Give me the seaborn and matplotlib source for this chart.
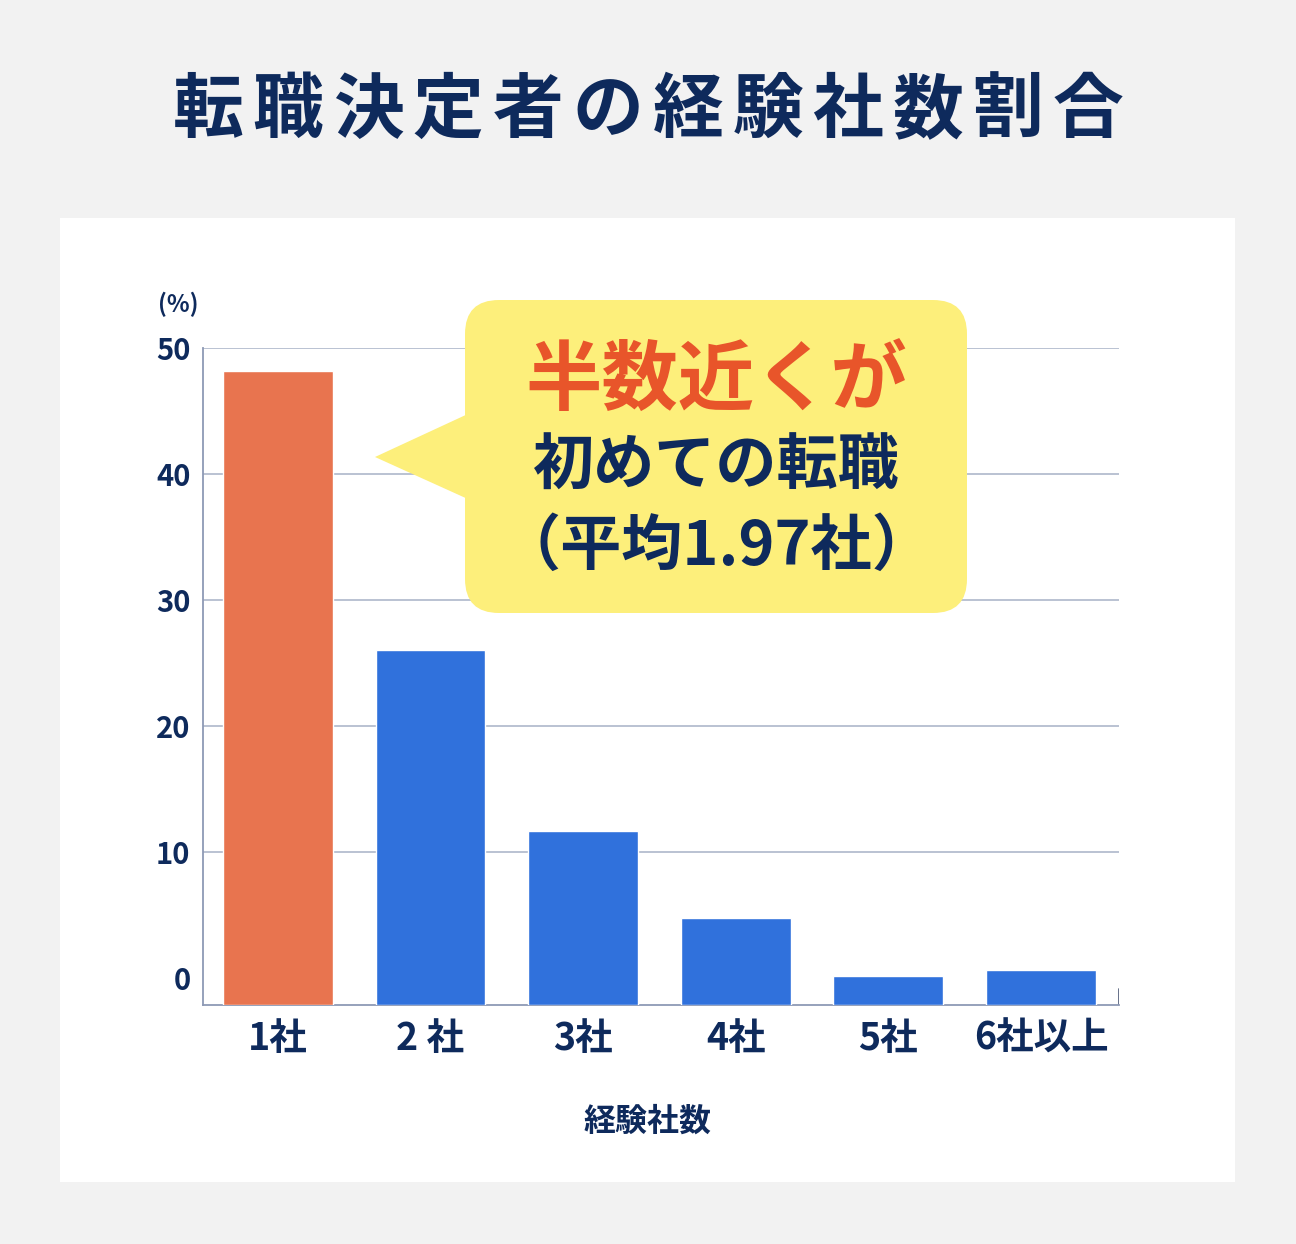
import numpy as np
import pandas as pd
import matplotlib
matplotlib.use("Agg")
import matplotlib.pyplot as plt
import seaborn as sns
from matplotlib.patches import FancyBboxPatch, Polygon, Rectangle

# data
categories = ["1社", "2 社", "3社", "4社", "5社", "6社以上"]
shares = [48.2, 26.0, 11.7, 4.8, 0.2, 0.6]
bar_colors = ["#e8744f", "#3071dc", "#3071dc", "#3071dc", "#3071dc", "#3071dc"]
yticks = [0, 10, 20, 30, 40, 50]

title = "転職決定者の経験社数割合"
note_head = "半数近くが"
note_body = ["初めての転職", "（平均1.97社）"]

navy = "#0e2a5c"

sns.set_style("white")
plt.rcParams["font.family"] = ["Noto Sans CJK JP", "DejaVu Sans"]
plt.rcParams["font.weight"] = "bold"

W, H = 1296, 1244
fig = plt.figure(figsize=(W / 100, H / 100), dpi=100)
fig.patch.set_facecolor("#f2f2f2")

# white panel
fig.patches.append(Rectangle((60 / W, 1 - 1182 / H), (1235 - 60) / W, (1182 - 218) / H,
                             transform=fig.transFigure, facecolor="white",
                             edgecolor="none", zorder=-5))

ax = fig.add_axes([203 / W, 1 - 1005 / H, 916 / W, (1005 - 348) / H])
ax.set_facecolor("none")

df = pd.DataFrame({"cat": categories, "share": shares})
sns.barplot(data=df, x="cat", y="share", hue="cat", palette=bar_colors,
            legend=False, width=0.72, saturation=1, ax=ax, zorder=3)

y0 = -2.14
# bars start from the floor of the axis, as in the original
for p in ax.patches:
    top = p.get_y() + p.get_height()
    p.set_y(y0)
    p.set_height(top - y0)

ax.set_ylim(y0, 50)
ax.set_xlim(-0.491, 5.511)
ax.set_yticks(yticks)
ax.yaxis.grid(True, color="#aeb8cb", lw=1.2, zorder=0)
ax.get_ygridlines()[0].set_visible(False)
ax.set_axisbelow(True)

for s in ["top", "right"]:
    ax.spines[s].set_visible(False)
for s in ["left", "bottom"]:
    ax.spines[s].set_color("#8e9ab5")
    ax.spines[s].set_linewidth(1.3)
ax.axvline(5.511, ymax=0.025, color="#5a6680", lw=1.3)

ax.tick_params(axis="y", length=0, pad=9, labelsize=21, labelcolor=navy)
ax.tick_params(axis="x", length=0, pad=10, labelsize=27, labelcolor=navy)
for t in ax.get_xticklabels() + ax.get_yticklabels():
    t.set_fontweight("bold")
ax.set_xlabel("")
ax.set_ylabel("")

fig.text(178 / W, 1 - 304 / H, "(%)", ha="center", va="center",
         fontsize=17, color=navy, fontweight="bold")
fig.text(647 / W, 1 - 1122 / H, "経験社数", ha="center", va="center",
         fontsize=23, color=navy, fontweight="bold")

# overlay in pixel space for title spacing and the callout bubble
ov = fig.add_axes([0, 0, 1, 1], zorder=5)
ov.set_xlim(0, W)
ov.set_ylim(H, 0)
ov.axis("off")
ov.patch.set_alpha(0)

# title is letter-spaced in the original
pitch = 80.0
x_start = W / 2 - pitch * (len(title) - 1) / 2
for i, ch in enumerate(title):
    ov.text(x_start + i * pitch, 111, ch, ha="center", va="center",
            fontsize=51, color=navy, fontweight="bold")

yellow = "#fdef7b"
ov.add_patch(Polygon([(375, 457), (470, 413), (470, 500)], closed=True,
                     facecolor=yellow, edgecolor="none"))
ov.add_patch(FancyBboxPatch((465 + 34, 300 + 34), 502 - 68, 313 - 68,
                            boxstyle="round,pad=34,rounding_size=34",
                            facecolor=yellow, edgecolor="none"))
ov.text(716, 382, note_head, ha="center", va="center", fontsize=55,
        color="#e8552a", fontweight="bold")
ov.text(716, 467, note_body[0], ha="center", va="center", fontsize=44,
        color=navy, fontweight="bold")
ov.text(716, 547, note_body[1], ha="center", va="center", fontsize=44,
        color=navy, fontweight="bold")

fig.savefig("out.png", dpi=100, facecolor=fig.get_facecolor())
